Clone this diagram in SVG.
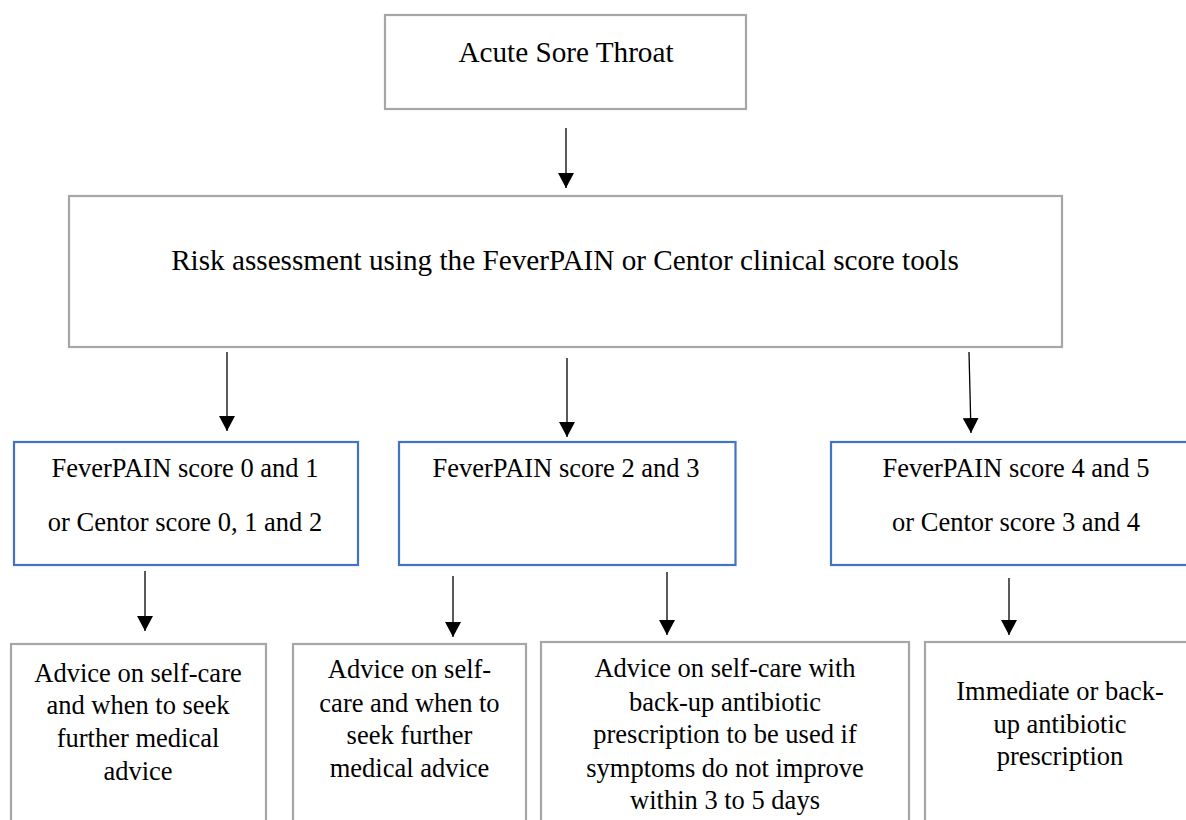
<svg xmlns="http://www.w3.org/2000/svg" width="1186" height="820" viewBox="0 0 1186 820">
<style>
.grey{fill:#ffffff;stroke:#A6A6A6;stroke-width:2.2}
.blue{fill:#ffffff;stroke:#4472C4;stroke-width:2.2}
.t{font-family:"Liberation Serif","Times New Roman",serif;fill:#000000;text-anchor:middle}
.big{font-size:29.2px}
.sm{font-size:26.5px}
.conn line{stroke:#000000;stroke-width:1.3;fill:none}
</style>
<defs>
<marker id="arr" viewBox="0 0 15 16" refX="15" refY="8" markerWidth="15" markerHeight="16" markerUnits="userSpaceOnUse" orient="auto">
<path d="M0,0 L15,8 L0,16 z" fill="#000000"/>
</marker>
</defs>
<rect width="1186" height="820" fill="#ffffff"/>

<g id="n-start">
<rect class="grey" x="385" y="15" width="361" height="94"/>
<text class="t big" x="566" y="62">Acute Sore Throat</text>
</g>

<g id="n-risk">
<rect class="grey" x="69" y="196" width="993" height="151"/>
<text class="t big" x="565" y="270">Risk assessment using the FeverPAIN or Centor clinical score tools</text>
</g>

<g id="n-low">
<rect class="blue" x="14" y="442" width="344" height="123"/>
<text class="t sm" x="185" y="477">FeverPAIN score 0 and 1</text>
<text class="t sm" x="185" y="531">or Centor score 0, 1 and 2</text>
</g>

<g id="n-mid">
<rect class="blue" x="399" y="442" width="336.5" height="123"/>
<text class="t sm" x="566" y="477">FeverPAIN score 2 and 3</text>
</g>

<g id="n-high">
<rect class="blue" x="831" y="442" width="370" height="123"/>
<text class="t sm" x="1016" y="477">FeverPAIN score 4 and 5</text>
<text class="t sm" x="1016" y="531">or Centor score 3 and 4</text>
</g>

<g id="n-out1">
<rect class="grey" x="11" y="644" width="255" height="190"/>
<text class="t sm" x="138" y="682">Advice on self-care</text>
<text class="t sm" x="138" y="714">and when to seek</text>
<text class="t sm" x="138" y="747">further medical</text>
<text class="t sm" x="138" y="780">advice</text>
</g>

<g id="n-out2">
<rect class="grey" x="293" y="644" width="233" height="190"/>
<text class="t sm" x="409.5" y="678">Advice on self-</text>
<text class="t sm" x="409.5" y="712">care and when to</text>
<text class="t sm" x="409.5" y="744">seek further</text>
<text class="t sm" x="409.5" y="777">medical advice</text>
</g>

<g id="n-out3">
<rect class="grey" x="541" y="642" width="368" height="190"/>
<text class="t sm" x="725" y="677">Advice on self-care with</text>
<text class="t sm" x="725" y="711">back-up antibiotic</text>
<text class="t sm" x="725" y="743">prescription to be used if</text>
<text class="t sm" x="725" y="777">symptoms do not improve</text>
<text class="t sm" x="725" y="809">within 3 to 5 days</text>
</g>

<g id="n-out4">
<rect class="grey" x="925" y="642" width="270" height="190"/>
<text class="t sm" x="1060" y="700">Immediate or back-</text>
<text class="t sm" x="1060" y="733">up antibiotic</text>
<text class="t sm" x="1060" y="765">prescription</text>
</g>

<g id="connectors" class="conn">
<line x1="566" y1="128" x2="566" y2="188" marker-end="url(#arr)"/>
<line x1="227" y1="352" x2="227" y2="431" marker-end="url(#arr)"/>
<line x1="567" y1="358" x2="567" y2="437" marker-end="url(#arr)"/>
<line x1="969" y1="352" x2="971" y2="433" marker-end="url(#arr)"/>
<line x1="145" y1="571" x2="145" y2="631" marker-end="url(#arr)"/>
<line x1="453" y1="576" x2="453" y2="637" marker-end="url(#arr)"/>
<line x1="667" y1="572" x2="667" y2="635" marker-end="url(#arr)"/>
<line x1="1009" y1="578" x2="1009" y2="635" marker-end="url(#arr)"/>
</g>
</svg>
